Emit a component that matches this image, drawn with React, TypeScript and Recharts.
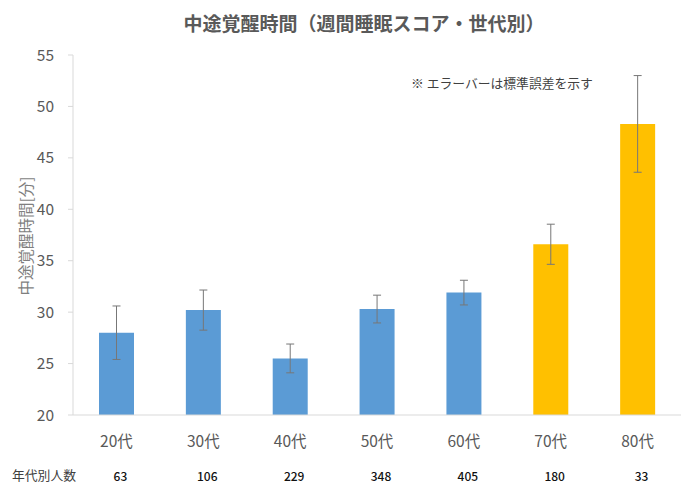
import React from 'react';
import { BarChart, Bar, XAxis, YAxis, ErrorBar, Cell } from 'recharts';

const ages = ['20代', '30代', '40代', '50代', '60代', '70代', '80代'];
const meanMinutes = [28.0, 30.2, 25.5, 30.3, 31.9, 36.6, 48.3];
const stdErrors = [2.6, 1.95, 1.4, 1.35, 1.2, 1.95, 4.7];
const counts = [63, 106, 229, 348, 405, 180, 33];
const barColors = ['#5B9BD5', '#5B9BD5', '#5B9BD5', '#5B9BD5', '#5B9BD5', '#FFC000', '#FFC000'];
const yTicks = [20, 25, 30, 35, 40, 45, 50, 55];

const data = ages.map((age, i) => ({ age, value: meanMinutes[i], se: stdErrors[i] }));

const FONT = "'Noto Sans CJK JP', 'Noto Sans', sans-serif";

const AgeTick = (props: any) => {
  const { x, y, payload } = props;
  const idx = ages.indexOf(payload.value);
  return (
    <g>
      <text x={x} y={y + 25} textAnchor="middle" dominantBaseline="central" fill="#595959" fontSize={15.5} fontFamily={FONT}>
        {payload.value}
      </text>
      <text x={x + 4} y={y + 60} textAnchor="middle" dominantBaseline="central" fill="#111111" fontSize={12} fontWeight={500} fontFamily={FONT}>
        {counts[idx]}
      </text>
    </g>
  );
};

const YLabel = () => (
  <text
    x={25}
    y={236}
    transform="rotate(-90, 25, 236)"
    textAnchor="middle"
    dominantBaseline="central"
    fill="#7f7f7f"
    fontSize={15.5}
    fontFamily={FONT}
  >
    中途覚醒時間[分]
  </text>
);

export default function App() {
  return (
    <div style={{ position: 'absolute', left: 0, top: 0, width: 690, height: 494, background: '#fff', fontFamily: FONT }}>
      <div
        style={{
          position: 'absolute',
          left: 0,
          width: 728,
          top: 10,
          textAlign: 'center',
          fontSize: 19,
          fontWeight: 700,
          color: '#595959',
          lineHeight: '26px',
        }}
      >
        中途覚醒時間（週間睡眠スコア・世代別）
      </div>
      <div
        style={{
          position: 'absolute',
          left: 411,
          top: 74,
          fontSize: 12.8,
          color: '#404040',
          lineHeight: '18px',
          whiteSpace: 'nowrap',
        }}
      >
        ※ エラーバーは標準誤差を示す
      </div>
      <div
        style={{
          position: 'absolute',
          left: 12,
          top: 466,
          fontSize: 12.8,
          color: '#404040',
          lineHeight: '18px',
        }}
      >
        年代別人数
      </div>
      <BarChart width={690} height={494} data={data} margin={{ top: 55, right: 9, left: 0, bottom: 0 }}>
        <XAxis
          dataKey="age"
          height={79}
          axisLine={{ stroke: '#d9d9d9' }}
          tickLine={false}
          tickSize={0}
          tickMargin={0}
          interval={0}
          tick={<AgeTick />}
        />
        <YAxis
          width={73}
          domain={[20, 55]}
          ticks={yTicks}
          interval={0}
          axisLine={{ stroke: '#d9d9d9' }}
          tickLine={{ stroke: '#d9d9d9' }}
          tickSize={5}
          tickMargin={14}
          tick={{ fill: '#595959', fontSize: 15.5, fontFamily: FONT }}
          label={<YLabel />}
        />
        <Bar dataKey="value" barSize={35} isAnimationActive={false}>
          {data.map((d, i) => (
            <Cell key={d.age} fill={barColors[i]} />
          ))}
          <ErrorBar dataKey="se" width={4} stroke="#777777" strokeWidth={1} direction="y" />
        </Bar>
      </BarChart>
    </div>
  );
}
